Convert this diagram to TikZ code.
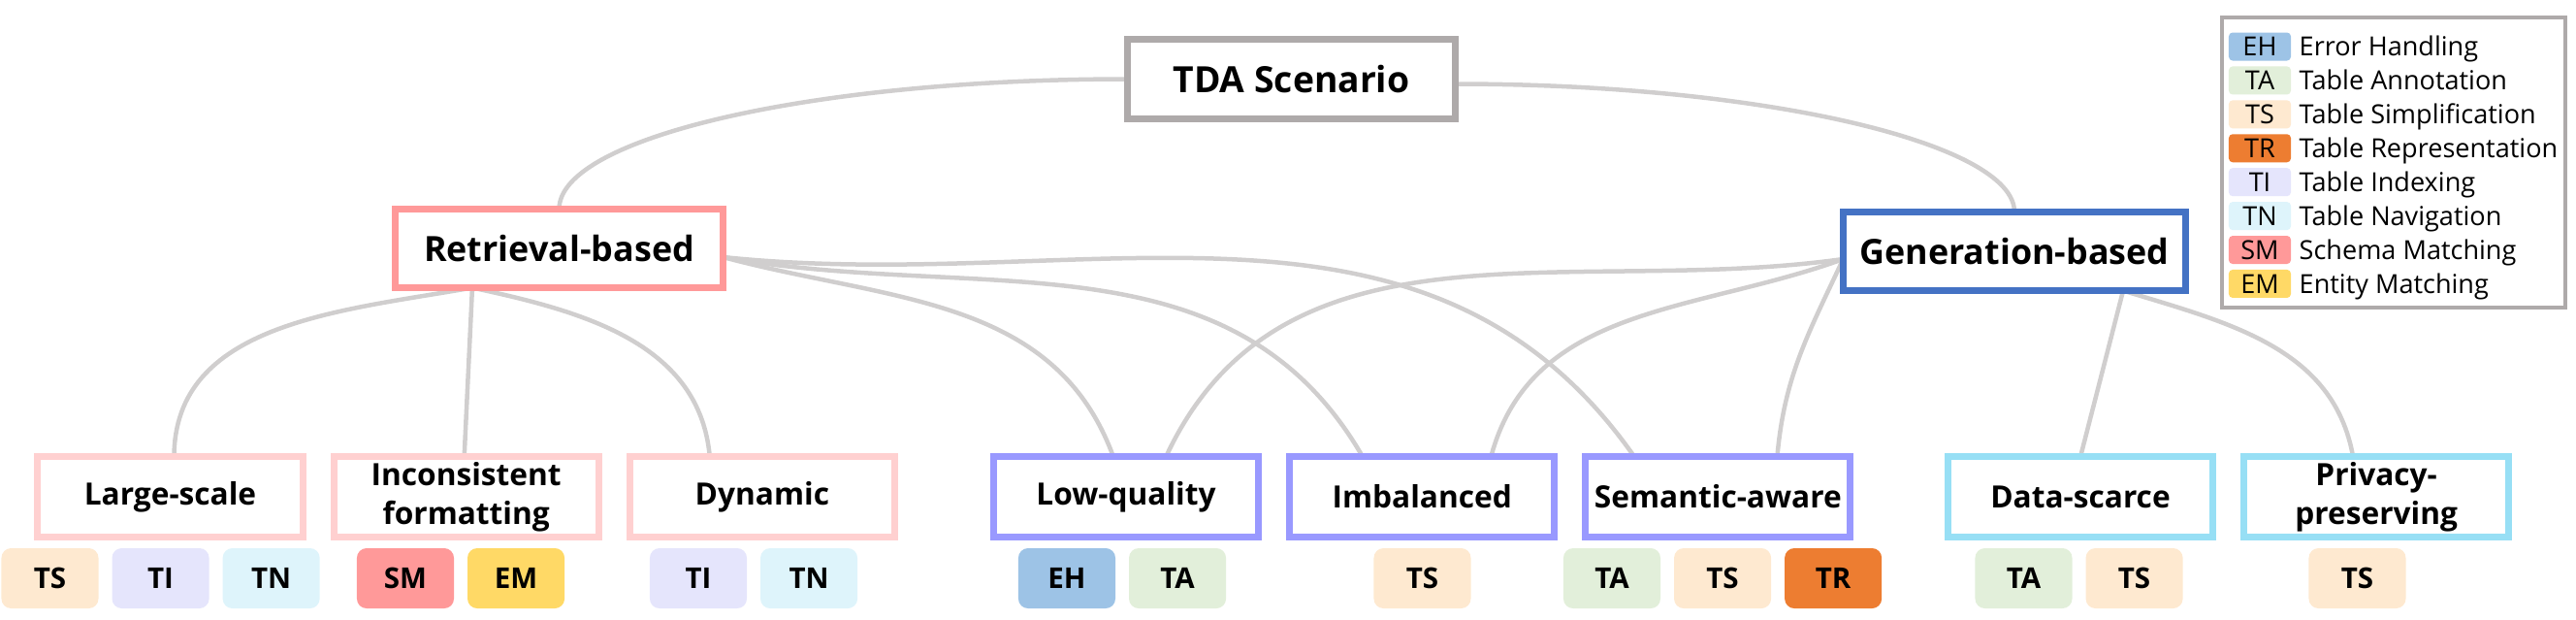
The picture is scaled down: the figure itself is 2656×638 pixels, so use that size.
\documentclass[tikz,border=0pt]{standalone}
\usepackage{fontspec}
\setmainfont{Open Sans}
\usetikzlibrary{chains,positioning,backgrounds}
\definecolor{rootgray}{HTML}{AEAAAA}
\definecolor{retred}{HTML}{FF9999}
\definecolor{genblue}{HTML}{4472C4}
\definecolor{leafpink}{HTML}{FFD0D0}
\definecolor{leafviolet}{HTML}{9999FF}
\definecolor{leafcyan}{HTML}{97DFF5}
\definecolor{linkgray}{HTML}{D0CECE}
\definecolor{cEH}{HTML}{9DC3E6}
\definecolor{cTA}{HTML}{E2EFDA}
\definecolor{cTS}{HTML}{FEE9D0}
\definecolor{cTR}{HTML}{ED7D31}
\definecolor{cTI}{HTML}{E5E5FC}
\definecolor{cTN}{HTML}{DEF4FB}
\definecolor{cSM}{HTML}{FF9999}
\definecolor{cEM}{HTML}{FFD966}

\begin{document}
\begin{tikzpicture}[
			x=0.01cm, y=-0.01cm,
			node distance = 0pt,
			Box/.style={draw, fill=white, line width=0.07cm, outer sep=0pt,
				inner sep=1pt, align=center},
			RootBox/.style={Box, draw=rootgray, minimum width=3.38cm, minimum height=0.82cm,
				font=\bfseries\fontsize{10.6}{12}\selectfont},
			MidBox/.style={Box, minimum height=0.81cm,
				font=\bfseries\fontsize{10.2}{12}\selectfont},
			LeafBox/.style={Box, minimum width=2.73cm, minimum height=0.82cm,
				font=\bfseries\fontsize{9}{11.4}\selectfont, on chain},
			Tag/.style={fill=#1, rounded corners=0.1cm, minimum width=1cm, minimum height=0.62cm,
				inner sep=0pt, outer sep=0pt, font=\bfseries\fontsize{8.4}{10}\selectfont, on chain},
			KeyTag/.style={fill=#1, rounded corners=0.04cm, minimum width=0.64cm, minimum height=0.29cm,
				inner sep=0pt, outer sep=0pt, font=\fontsize{7.7}{9}\selectfont, on chain},
			KeyText/.style={anchor=base west, inner sep=0pt, font=\fontsize{7.7}{9}\selectfont},
			Link/.style={draw=linkgray, line width=0.045cm},
			]
			\useasboundingbox (0,0) rectangle (2656,638);
			\node [RootBox] (root) at (1331.5,81.5) {TDA Scenario};
			\node [MidBox, draw=retred, minimum width=3.38cm] (ret) at (576.5,256) {Retrieval-based};
			\node [MidBox, draw=genblue, minimum width=3.53cm] (gen) at (2077,259) {Generation-based};
			% scenarios
			\begin{scope}[start chain=rowA going right, node distance=0.32cm]
				\node [LeafBox, draw=leafpink] (ls) at (175.5,512) {Large-scale};
				\node [LeafBox, draw=leafpink] (inc) {Inconsistent\\formatting};
				\node [LeafBox, draw=leafpink] (dyn) {Dynamic};
			\end{scope}
			\begin{scope}[start chain=rowB going right, node distance=0.32cm]
				\node [LeafBox, draw=leafviolet] (lq) at (1161,512) {Low-quality};
				\node [LeafBox, draw=leafviolet] (imb) {Imbalanced};
				\node [LeafBox, draw=leafviolet] (sem) {Semantic-aware};
			\end{scope}
			\begin{scope}[start chain=rowC going right, node distance=0.32cm]
				\node [LeafBox, draw=leafcyan] (ds) at (2145,512) {Data-scarce};
				\node [LeafBox, draw=leafcyan] (pp) {Privacy-\\preserving};
			\end{scope}
			% technique tags
			\begin{scope}[start chain=tagA going right, node distance=0.14cm]
				\node [Tag=cTS] (a1) at (51.5,596) {TS};
				\node [Tag=cTI] (a2) {TI};
				\node [Tag=cTN] (a3) {TN};
			\end{scope}
			\begin{scope}[start chain=tagB going right, node distance=0.14cm]
				\node [Tag=cSM] (b1) at (418,596) {SM};
				\node [Tag=cEM] (b2) {EM};
			\end{scope}
			\begin{scope}[start chain=tagC going right, node distance=0.14cm]
				\node [Tag=cTI] (c1) at (720,596) {TI};
				\node [Tag=cTN] (c2) {TN};
			\end{scope}
			\begin{scope}[start chain=tagD going right, node distance=0.14cm]
				\node [Tag=cEH] (d1) at (1100,596) {EH};
				\node [Tag=cTA] (d2) {TA};
			\end{scope}
			\begin{scope}[start chain=tagE going right, node distance=0.14cm]
				\node [Tag=cTS] (e1) at (1466.5,596) {TS};
			\end{scope}
			\begin{scope}[start chain=tagF going right, node distance=0.14cm]
				\node [Tag=cTA] (f1) at (1662,596) {TA};
				\node [Tag=cTS] (f2) {TS};
				\node [Tag=cTR] (f3) {TR};
			\end{scope}
			\begin{scope}[start chain=tagG going right, node distance=0.14cm]
				\node [Tag=cTA] (g1) at (2086.5,596) {TA};
				\node [Tag=cTS] (g2) {TS};
			\end{scope}
			\begin{scope}[start chain=tagH going right, node distance=0.14cm]
				\node [Tag=cTS] (h1) at (2430.5,596) {TS};
			\end{scope}
			% legend
			\node [draw=rootgray, line width=0.04cm, fill=white, minimum width=3.54cm,
				minimum height=2.99cm, outer sep=0pt] (key) at (2468,167.5) {};
			\begin{scope}[start chain=keys going below, node distance=0.059cm]
				\node [KeyTag=cEH] (k1) at (2330,48) {EH};
				\node [KeyTag=cTA] (k2) {TA};
				\node [KeyTag=cTS] (k3) {TS};
				\node [KeyTag=cTR] (k4) {TR};
				\node [KeyTag=cTI] (k5) {TI};
				\node [KeyTag=cTN] (k6) {TN};
				\node [KeyTag=cSM] (k7) {SM};
				\node [KeyTag=cEM] (k8) {EM};
			\end{scope}
			\node [KeyText] (t1) at ([xshift=0.08cm]k1.base east) {Error Handling};
			\node [KeyText] (t2) at ([xshift=0.08cm]k2.base east) {Table Annotation};
			\node [KeyText] (t3) at ([xshift=0.08cm]k3.base east) {Table Simplification};
			\node [KeyText] (t4) at ([xshift=0.08cm]k4.base east) {Table Representation};
			\node [KeyText] (t5) at ([xshift=0.08cm]k5.base east) {Table Indexing};
			\node [KeyText] (t6) at ([xshift=0.08cm]k6.base east) {Table Navigation};
			\node [KeyText] (t7) at ([xshift=0.08cm]k7.base east) {Schema Matching};
			\node [KeyText] (t8) at ([xshift=0.08cm]k8.base east) {Entity Matching};
			% links
			\begin{scope}[on background layer]
				\coordinate (rb) at ([xshift=-0.895cm]ret.south);
				\coordinate (rr) at ([yshift=-0.09cm]ret.east);
				\coordinate (gl) at ([yshift=-0.08cm]gen.west);
				\coordinate (gb) at ([xshift=1.12cm]gen.south);
				\draw [Link] (root.west) .. controls +(-323,0) and +(0,-74) .. (ret.north);
				\draw [Link] ([yshift=-0.05cm]root.east) .. controls +(316,0) and +(0,-71) .. (gen.north);
				\draw [Link] (rb) to [out=190, in=90] ([xshift=0.04cm]ls.north);
				\draw [Link] (rb) -- ([xshift=-0.02cm]inc.north);
				\draw [Link] (rb) to [out=-12, in=95] ([xshift=-0.54cm]dyn.north);
				\draw [Link] (rr) to [out=-15, in=110] ([xshift=-0.13cm]lq.north);
				\draw [Link] (rr) to [out=-10, in=120] ([xshift=-0.61cm]imb.north);
				\draw [Link] (rr) to [out=-6, in=125] ([xshift=-0.86cm]sem.north);
				\draw [Link] (gl) to [out=188, in=65] ([xshift=0.41cm]lq.north);
				\draw [Link] (gl) to [out=200, in=75] ([xshift=0.71cm]imb.north);
				\draw [Link] (gl) to [out=245, in=85] ([xshift=0.61cm]sem.north);
				\draw [Link] (gb) -- (ds.north);
				\draw [Link] (gb) to [out=-17, in=100] ([xshift=-0.24cm]pp.north);
			\end{scope}
		\end{tikzpicture}
\end{document}
